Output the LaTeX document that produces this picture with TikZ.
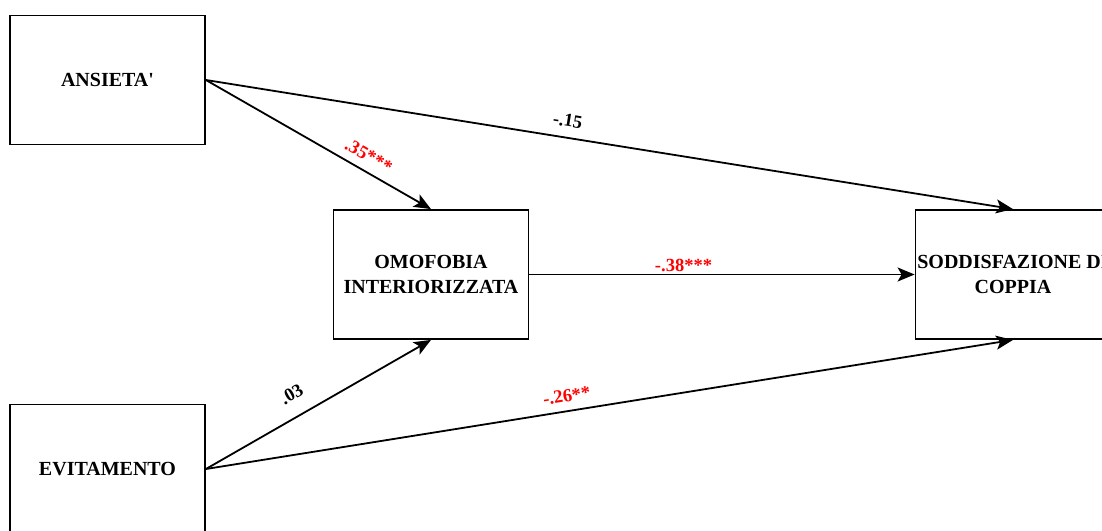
\documentclass[tikz,border=0pt]{standalone}
\usepackage{fontspec}
\setmainfont{Liberation Serif}
\usetikzlibrary{arrows.meta}
\definecolor{lblred}{RGB}{255,0,0}
\tikzset{
  box/.style={draw, line width=1.8pt, minimum width=195pt, minimum height=129pt, inner sep=0pt, align=center, font=\fontsize{20}{25}\selectfont\bfseries},
  conn/.style={line width=1.8pt, -{Stealth[length=17pt,width=14pt,inset=4pt]}},
  lbl/.style={font=\fontsize{18.5}{22}\selectfont\bfseries, inner sep=2pt},
  redlbl/.style={lbl, text=lblred}
}
\begin{document}
\begin{tikzpicture}[x=1pt,y=-1pt]
\useasboundingbox (0,0) rectangle (1102,530);
\fill[white] (0,0) rectangle (1102,530);
\node[box] (ans) at (107.5,80) {ANSIETA\textquotesingle};
\node[box] (evi) at (107.5,469) {EVITAMENTO};
\node[box] (omo) at (431,274.5) {OMOFOBIA\\INTERIORIZZATA};
\node[box] (sod) at (1013,274.5) {SODDISFAZIONE DI\\COPPIA};
\draw[conn] (ans.east) -- node[pos=.69, above=6pt, sloped, redlbl] {.35***} (omo.north);
\draw[conn] (ans.east) -- node[pos=.445, above=8pt, sloped, lbl] {-.15} (sod.north);
\draw[conn] (omo.east) -- node[pos=.4, above, lbl, redlbl] {-.38***} (sod.west);
\draw[conn] (evi.east) -- node[pos=.43, above=13pt, sloped, lbl] {.03} (omo.south);
\draw[conn] (evi.east) -- node[pos=.45, above=6pt, sloped, redlbl] {-.26**} (sod.south);
\end{tikzpicture}
\end{document}
